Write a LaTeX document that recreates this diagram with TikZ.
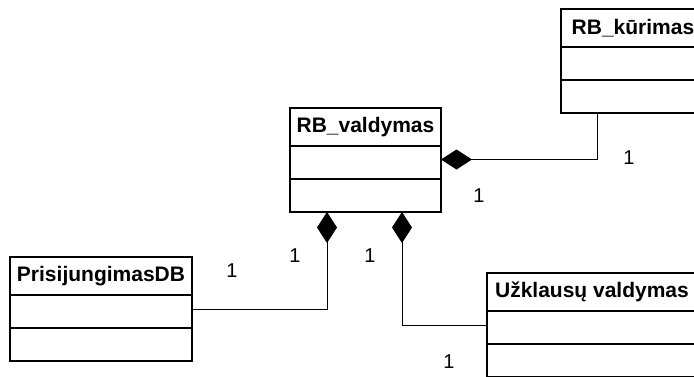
\documentclass[tikz,border=0pt]{standalone}
\usepackage{fontspec}
\setmainfont{Liberation Sans}
\usetikzlibrary{arrows.meta, positioning, calc}

\begin{document}
\begin{tikzpicture}[x=1pt, y=-1pt,
        classhead/.style={draw, line width=1.5pt, inner sep=0pt, outer sep=0pt, minimum height=38pt,
            anchor=north west, font=\fontsize{21pt}{25pt}\selectfont\bfseries},
        compart/.style={draw, line width=1.5pt, inner sep=0pt, outer sep=0pt, minimum height=33pt},
        comp/.style={line width=1pt, -{Diamond[length=31pt, width=20pt]}},
        mult/.style={font=\fontsize{20pt}{24pt}\selectfont}]
        \useasboundingbox (0,0) rectangle (694,376);
        \clip (0,0) rectangle (694,376);

        % classes: name/x/y/width/title
        \foreach \nm/\x/\y/\w/\title in {vald/290/108/151/RB\_valdymas,kurim/561/9/144/RB\_kūrimas,prisij/10/257/182/PrisijungimasDB,uzkl/487/273/210/Užklausų valdymas} {
            \node[classhead, minimum width=\w pt] (\nm) at (\x,\y) {\title};
            \node[compart, minimum width=\w pt, below=0pt of \nm] (\nm-a) {};
            \node[compart, minimum width=\w pt, below=0pt of \nm-a] (\nm-b) {};
        }

        % compositions
        \draw[comp] ([xshift=36pt]kurim-b.south west) |- ([yshift=3pt]vald-a.east);
        \draw[comp] ([yshift=2pt]prisij-a.east) -| ([xshift=37pt]vald-b.south west);
        \draw[comp] ([yshift=2pt]uzkl-a.west) -| ([xshift=112pt]vald-b.south west);

        \node[mult] (m1) at (629,158) {1};
        \node[mult] (m2) at (479,196) {1};
        \node[mult] (m3) at (232,271) {1};
        \node[mult] (m4) at (295,256) {1};
        \node[mult] (m5) at (370,256) {1};
        \node[mult] (m6) at (449,362) {1};
    \end{tikzpicture}
\end{document}
